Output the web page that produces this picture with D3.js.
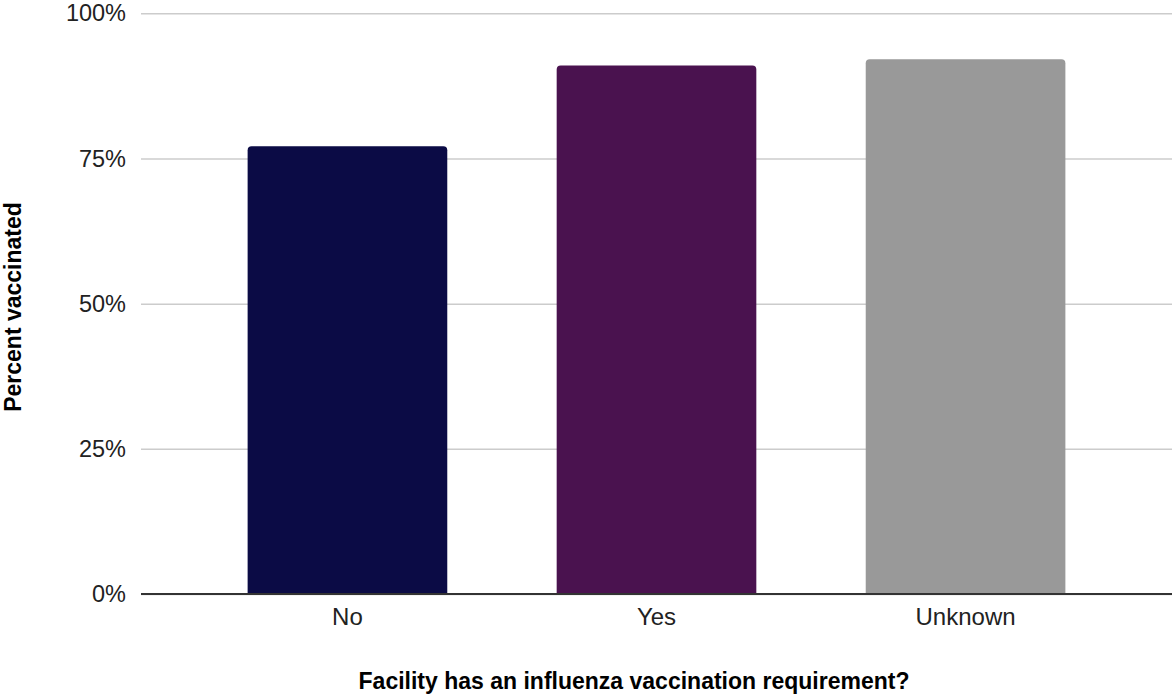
<!DOCTYPE html>
<html>
<head>
<meta charset="utf-8">
<title>Percent vaccinated by facility requirement</title>
<script src="https://cdnjs.cloudflare.com/ajax/libs/d3/7.8.5/d3.min.js"></script>
<style>
  body { margin: 0; background: #fff; }
  text { font-family: "Liberation Sans", Arial, sans-serif; }
</style>
</head>
<body>
<div id="chart"></div>
<script>
// data
var categories = ["No", "Yes", "Unknown"];
var values = [77.1, 91.0, 92.1];
var barColors = ["#0b0b45", "#4a124f", "#999999"];
var yTicks = [0, 25, 50, 75, 100];

var width = 1172, height = 694;
var plotLeft = 141, plotRight = 1172, plotTop = 13.3, plotBottom = 594;

var svg = d3.select("#chart").append("svg")
    .attr("width", width)
    .attr("height", height);

var x = d3.scaleBand()
    .domain(categories)
    .range([plotLeft, plotRight])
    .paddingInner(0.354)
    .paddingOuter(0.345);

var y = d3.scaleLinear()
    .domain([0, 100])
    .range([plotBottom, plotTop]);

// gridlines + y labels
var yAxis = svg.append("g")
    .attr("transform", "translate(" + plotLeft + ",0)")
    .call(d3.axisLeft(y).tickValues(yTicks).tickSize(-(plotRight - plotLeft)).tickPadding(15)
      .tickFormat(function(d) { return d + "%"; }));
yAxis.select(".domain").remove();
yAxis.selectAll(".tick line").attr("stroke", "#cccccc").attr("stroke-width", 1.5);
yAxis.selectAll(".tick text")
    .attr("fill", "#222")
    .style("font-size", "23.5px");

// bars with rounded tops
var r = 4;
svg.selectAll(".bar")
    .data(values)
    .enter()
    .append("path")
    .attr("class", "bar")
    .attr("fill", function(d, i) { return barColors[i]; })
    .attr("d", function(d, i) {
      var x0 = x(categories[i]), x1 = x0 + x.bandwidth();
      var y0 = y(d), yb = y(0);
      return "M" + x0 + "," + yb +
        "V" + (y0 + r) +
        "Q" + x0 + "," + y0 + " " + (x0 + r) + "," + y0 +
        "H" + (x1 - r) +
        "Q" + x1 + "," + y0 + " " + x1 + "," + (y0 + r) +
        "V" + yb + "Z";
    });

// baseline + x labels
var xAxis = svg.append("g")
    .attr("transform", "translate(0," + plotBottom + ")")
    .call(d3.axisBottom(x).tickSize(0).tickPadding(14));
xAxis.select(".domain").remove();
xAxis.selectAll(".tick text")
    .attr("fill", "#222")
    .style("font-size", "24px");

svg.append("line")
    .attr("x1", plotLeft).attr("x2", plotRight)
    .attr("y1", plotBottom).attr("y2", plotBottom)
    .attr("stroke", "#333")
    .attr("stroke-width", 2);

// axis titles
svg.append("text")
    .attr("x", 634)
    .attr("y", 689)
    .attr("text-anchor", "middle")
    .style("font-size", "23px")
    .style("font-weight", "bold")
    .attr("fill", "#000")
    .text("Facility has an influenza vaccination requirement?");

svg.append("text")
    .attr("transform", "translate(21,307) rotate(-90)")
    .attr("text-anchor", "middle")
    .style("font-size", "23px")
    .style("font-weight", "bold")
    .attr("fill", "#000")
    .text("Percent vaccinated");
</script>
</body>
</html>
